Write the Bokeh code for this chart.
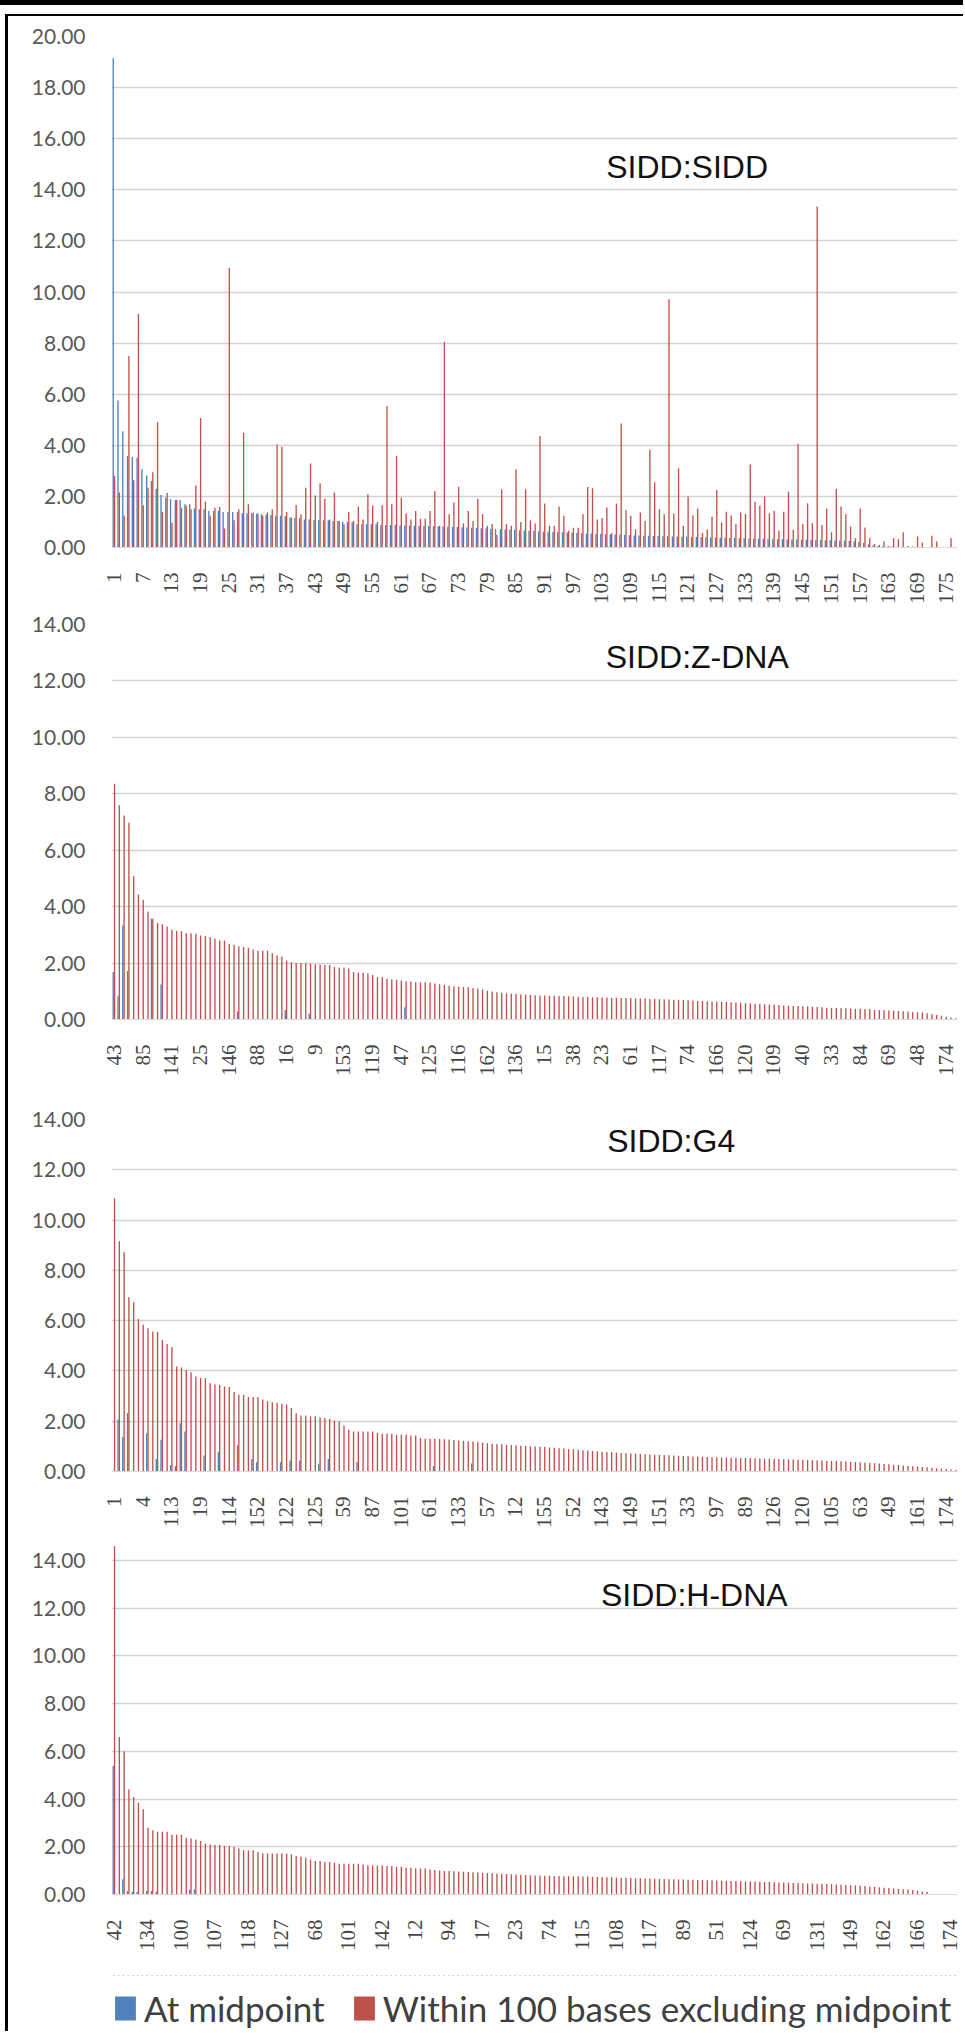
import math
from bokeh.plotting import figure
from bokeh.models import (Range1d, FixedTicker, PrintfTickFormatter, Label,
                          Legend, LegendItem, ColumnDataSource)
from bokeh.transform import dodge
from bokeh.layouts import column
from bokeh.embed import file_html
from bokeh.resources import INLINE

N = 177
positions = list(range(N))

# ---------------- SIDD:SIDD ----------------
sidd_cats = [str(i + 1) for i in range(N)]
sidd_mid = [
    19.15, 5.75, 4.55, 3.58, 3.54, 3.51, 3.06, 2.82, 2.60, 2.30,
    2.05, 1.95, 1.90, 1.86, 1.86, 1.69, 1.69, 1.53, 1.50, 1.50,
    1.43, 1.43, 1.43, 1.39, 1.39, 1.39, 1.39, 1.34, 1.34, 1.34,
    1.32, 1.30, 1.28, 1.27, 1.24, 1.24, 1.22, 1.17, 1.15, 1.14,
    1.10, 1.10, 1.08, 1.08, 1.07, 1.07, 1.04, 1.04, 1.00, 1.00,
    0.98, 0.91, 0.91, 0.91, 0.91, 0.91, 0.88, 0.88, 0.88, 0.88,
    0.86, 0.86, 0.85, 0.85, 0.84, 0.84, 0.83, 0.83, 0.82, 0.82,
    0.81, 0.80, 0.80, 0.79, 0.78, 0.77, 0.76, 0.75, 0.74, 0.73,
    0.72, 0.71, 0.70, 0.70, 0.69, 0.68, 0.67, 0.66, 0.65, 0.64,
    0.63, 0.62, 0.61, 0.60, 0.60, 0.59, 0.58, 0.57, 0.56, 0.55,
    0.55, 0.54, 0.53, 0.52, 0.51, 0.50, 0.50, 0.49, 0.48, 0.47,
    0.47, 0.46, 0.46, 0.45, 0.45, 0.44, 0.44, 0.43, 0.43, 0.42,
    0.42, 0.41, 0.41, 0.40, 0.40, 0.39, 0.39, 0.38, 0.38, 0.37,
    0.37, 0.36, 0.36, 0.35, 0.35, 0.34, 0.34, 0.33, 0.33, 0.32,
    0.32, 0.32, 0.31, 0.31, 0.30, 0.30, 0.30, 0.29, 0.29, 0.28,
    0.28, 0.27, 0.27, 0.26, 0.25, 0.24, 0.22, 0.18, 0.12, 0.08,
    0.06, 0.05, 0.04, 0.04, 0.03, 0.03, 0.02, 0.02, 0.02, 0.01,
    0.01, 0.01, 0.01, 0.00, 0.00, 0.00, 0.00]
sidd_near = [
    2.80, 2.15, 1.24, 7.50, 2.63, 9.15, 1.65, 2.34, 2.95, 4.90,
    1.40, 2.13, 0.97, 1.86, 1.56, 1.63, 1.50, 2.43, 5.07, 1.80,
    1.24, 1.56, 1.59, 0.74, 10.95, 1.07, 1.50, 4.49, 1.69, 1.37,
    1.33, 1.24, 1.37, 1.50, 4.03, 3.94, 1.39, 1.17, 1.66, 1.30,
    2.34, 3.29, 2.04, 2.51, 1.91, 1.10, 2.15, 1.04, 0.91, 1.39,
    1.04, 1.60, 1.10, 2.08, 1.65, 1.00, 1.65, 5.53, 1.69, 3.58,
    1.95, 1.33, 1.10, 1.43, 1.13, 1.13, 1.43, 2.21, 0.85, 8.05,
    1.30, 1.76, 2.38, 0.95, 1.43, 1.04, 1.91, 1.30, 0.85, 0.92,
    0.50, 2.28, 0.92, 0.85, 3.05, 1.00, 2.28, 1.07, 0.94, 4.36,
    1.72, 0.85, 0.85, 1.60, 1.24, 0.66, 0.77, 0.77, 1.30, 2.37,
    2.32, 1.10, 1.15, 1.57, 0.56, 1.72, 4.85, 1.46, 1.24, 0.70,
    1.37, 1.04, 3.83, 2.55, 1.50, 1.30, 9.72, 1.33, 3.10, 0.85,
    2.00, 1.26, 1.53, 0.57, 0.70, 1.20, 2.25, 0.98, 1.40, 1.25,
    0.92, 1.37, 1.31, 3.25, 1.79, 1.63, 2.00, 1.34, 1.44, 0.66,
    1.40, 2.18, 0.69, 4.06, 0.92, 1.73, 0.95, 13.35, 0.88, 1.53,
    0.60, 2.29, 1.60, 1.30, 0.82, 0.36, 1.53, 0.78, 0.36, 0.14,
    0.10, 0.23, 0.06, 0.36, 0.33, 0.60, 0.06, 0.04, 0.43, 0.20,
    0.00, 0.46, 0.23, 0.00, 0.00, 0.36, 0.00]

# ---------------- SIDD:Z-DNA ----------------
zdna_ticklabels = ["43", "85", "141", "25", "146", "88", "16", "9", "153", "119",
                   "47", "125", "116", "162", "136", "15", "38", "23", "61", "117",
                   "74", "166", "120", "109", "40", "33", "84", "69", "48", "174"]
zdna_mid = [0.0] * N
for k, v in [(0, 1.68), (1, 0.82), (2, 3.33), (3, 1.72), (8, 3.57), (10, 1.24),
             (26, 0.28), (36, 0.34), (41, 0.20), (61, 0.43)]:
    zdna_mid[k] = v
zdna_near = [
    8.36, 7.59, 7.23, 6.97, 5.08, 4.43, 4.24, 3.83, 3.57, 3.42,
    3.38, 3.30, 3.18, 3.15, 3.13, 3.06, 3.06, 3.04, 2.98, 2.96,
    2.92, 2.86, 2.80, 2.80, 2.68, 2.65, 2.60, 2.56, 2.54, 2.48,
    2.44, 2.44, 2.44, 2.35, 2.27, 2.23, 2.09, 2.03, 2.00, 2.00,
    2.00, 1.98, 1.96, 1.95, 1.93, 1.93, 1.86, 1.84, 1.84, 1.81,
    1.68, 1.66, 1.66, 1.64, 1.58, 1.50, 1.50, 1.44, 1.42, 1.41,
    1.38, 1.36, 1.35, 1.32, 1.32, 1.32, 1.31, 1.28, 1.25, 1.22,
    1.20, 1.18, 1.16, 1.15, 1.14, 1.12, 1.10, 1.06, 1.02, 0.99,
    0.97, 0.95, 0.93, 0.91, 0.90, 0.89, 0.88, 0.87, 0.86, 0.85,
    0.85, 0.84, 0.84, 0.83, 0.83, 0.82, 0.82, 0.81, 0.80, 0.80,
    0.79, 0.79, 0.78, 0.78, 0.77, 0.77, 0.76, 0.76, 0.75, 0.75,
    0.74, 0.74, 0.73, 0.73, 0.72, 0.72, 0.71, 0.70, 0.70, 0.69,
    0.68, 0.67, 0.66, 0.66, 0.65, 0.64, 0.63, 0.63, 0.62, 0.61,
    0.60, 0.59, 0.58, 0.57, 0.56, 0.55, 0.54, 0.53, 0.52, 0.51,
    0.50, 0.49, 0.48, 0.48, 0.47, 0.46, 0.45, 0.44, 0.43, 0.42,
    0.41, 0.41, 0.40, 0.40, 0.39, 0.38, 0.38, 0.37, 0.36, 0.35,
    0.34, 0.33, 0.32, 0.31, 0.30, 0.29, 0.28, 0.27, 0.26, 0.25,
    0.22, 0.19, 0.16, 0.13, 0.10, 0.07, 0.04]

# ---------------- SIDD:G4 ----------------
g4_ticklabels = ["1", "4", "113", "19", "114", "152", "122", "125", "59", "87",
                 "101", "61", "133", "57", "12", "155", "52", "143", "149", "151",
                 "33", "97", "89", "126", "120", "105", "63", "49", "161", "174"]
g4_mid = [0.0] * N
for k, v in [(1, 2.07), (2, 1.37), (3, 2.33), (7, 1.52), (9, 0.50), (10, 1.26),
             (12, 0.26), (13, 0.21), (14, 1.92), (15, 1.59), (19, 0.64), (22, 0.77),
             (26, 1.04), (29, 0.50), (30, 0.37), (35, 0.37), (37, 0.44), (39, 0.44),
             (43, 0.31), (45, 0.50), (51, 0.37), (67, 0.22), (75, 0.32)]:
    g4_mid[k] = v
g4_near = [
    10.87, 9.16, 8.72, 6.93, 6.73, 6.07, 5.84, 5.70, 5.57, 5.55,
    5.23, 5.07, 4.94, 4.18, 4.14, 4.04, 3.95, 3.78, 3.72, 3.71,
    3.51, 3.46, 3.44, 3.38, 3.36, 3.16, 3.06, 3.05, 2.96, 2.96,
    2.96, 2.86, 2.79, 2.75, 2.73, 2.69, 2.66, 2.53, 2.32, 2.23,
    2.23, 2.20, 2.20, 2.16, 2.13, 2.09, 2.03, 1.99, 1.83, 1.66,
    1.59, 1.59, 1.59, 1.59, 1.59, 1.54, 1.50, 1.50, 1.50, 1.46,
    1.46, 1.46, 1.43, 1.43, 1.34, 1.30, 1.30, 1.30, 1.29, 1.28,
    1.27, 1.25, 1.23, 1.22, 1.20, 1.19, 1.17, 1.15, 1.12, 1.10,
    1.09, 1.08, 1.06, 1.05, 1.03, 1.02, 1.01, 1.00, 0.99, 0.98,
    0.97, 0.95, 0.94, 0.92, 0.91, 0.89, 0.88, 0.87, 0.85, 0.84,
    0.82, 0.81, 0.79, 0.78, 0.77, 0.76, 0.74, 0.73, 0.72, 0.71,
    0.70, 0.69, 0.68, 0.67, 0.66, 0.66, 0.65, 0.64, 0.63, 0.62,
    0.61, 0.60, 0.60, 0.59, 0.58, 0.57, 0.57, 0.56, 0.56, 0.55,
    0.55, 0.54, 0.54, 0.53, 0.53, 0.52, 0.51, 0.51, 0.50, 0.50,
    0.49, 0.49, 0.48, 0.47, 0.47, 0.46, 0.45, 0.45, 0.44, 0.43,
    0.42, 0.42, 0.41, 0.40, 0.39, 0.38, 0.37, 0.36, 0.35, 0.33,
    0.32, 0.30, 0.29, 0.27, 0.26, 0.24, 0.22, 0.21, 0.20, 0.18,
    0.17, 0.15, 0.13, 0.12, 0.10, 0.08, 0.06]

# ---------------- SIDD:H-DNA ----------------
hdna_ticklabels = ["42", "134", "100", "107", "118", "127", "68", "101", "142", "12",
                   "94", "17", "23", "74", "115", "108", "117", "89", "51", "124",
                   "69", "131", "149", "162", "166", "174"]
hdna_mid = [0.0] * N
for k, v in [(0, 5.39), (2, 0.64), (3, 0.15), (4, 0.12), (5, 0.10), (7, 0.15),
             (8, 0.15), (9, 0.12), (16, 0.20), (17, 0.22)]:
    hdna_mid[k] = v
hdna_near = [
    14.60, 6.60, 6.00, 4.41, 4.09, 3.85, 3.57, 2.80, 2.69, 2.63,
    2.63, 2.63, 2.50, 2.50, 2.50, 2.38, 2.35, 2.31, 2.24, 2.14,
    2.10, 2.07, 2.07, 2.03, 2.03, 1.99, 1.93, 1.85, 1.85, 1.85,
    1.78, 1.72, 1.72, 1.72, 1.72, 1.72, 1.72, 1.68, 1.61, 1.58,
    1.54, 1.47, 1.40, 1.40, 1.36, 1.36, 1.33, 1.29, 1.29, 1.29,
    1.29, 1.29, 1.26, 1.23, 1.23, 1.22, 1.22, 1.19, 1.19, 1.16,
    1.16, 1.12, 1.12, 1.09, 1.09, 1.09, 1.05, 1.03, 1.01, 0.99,
    0.98, 0.97, 0.96, 0.95, 0.94, 0.93, 0.92, 0.91, 0.90, 0.89,
    0.88, 0.87, 0.86, 0.85, 0.84, 0.83, 0.82, 0.81, 0.80, 0.80,
    0.79, 0.79, 0.78, 0.78, 0.77, 0.77, 0.76, 0.76, 0.75, 0.75,
    0.74, 0.74, 0.73, 0.72, 0.72, 0.71, 0.70, 0.70, 0.69, 0.68,
    0.68, 0.67, 0.67, 0.66, 0.66, 0.65, 0.64, 0.64, 0.63, 0.63,
    0.62, 0.62, 0.61, 0.61, 0.60, 0.60, 0.59, 0.59, 0.58, 0.57,
    0.57, 0.56, 0.55, 0.55, 0.54, 0.53, 0.52, 0.52, 0.51, 0.50,
    0.50, 0.49, 0.48, 0.48, 0.47, 0.46, 0.46, 0.45, 0.45, 0.44,
    0.43, 0.42, 0.41, 0.40, 0.39, 0.38, 0.37, 0.36, 0.34, 0.32,
    0.30, 0.28, 0.27, 0.25, 0.24, 0.22, 0.21, 0.19, 0.16, 0.13,
    0.10, 0.00, 0.00, 0.00, 0.00, 0.00, 0.00]

BLUE = "#4F81BD"
RED = "#C0504D"
SERIES = ["At midpoint", "Within 100 bases excluding midpoint"]


def make_panel(mid, near, ticklabels, step, title, ymax, ytop_tick,
               height, b_top, b_bottom, b_left, b_right, title_x, title_y):
    p = figure(width=955, height=height, output_backend="svg",
               toolbar_location=None, x_range=Range1d(-0.5, N - 0.5),
               y_range=Range1d(0, ymax), min_border_top=b_top,
               min_border_bottom=b_bottom, min_border_left=b_left,
               min_border_right=b_right)
    src = ColumnDataSource(dict(x=positions, mid=mid, near=near))
    p.vbar(x=dodge("x", -0.14, range=p.x_range), top="mid", width=0.28,
           source=src, fill_color=BLUE, line_color=None)
    p.vbar(x=dodge("x", 0.14, range=p.x_range), top="near", width=0.28,
           source=src, fill_color=RED, line_color=None)
    ticks = list(range(0, N, step))
    p.xaxis.ticker = FixedTicker(ticks=ticks)
    p.xaxis.major_label_overrides = {t: lab for t, lab in zip(ticks, ticklabels)}
    p.xaxis.major_label_orientation = math.pi / 2
    p.xaxis.major_label_text_font = "Liberation Serif"
    p.xaxis.major_label_text_font_size = "21px"
    p.xaxis.major_label_text_color = "#454545"
    p.xaxis.major_label_standoff = 19
    p.xaxis.axis_line_color = "#d9d9d9"
    p.xaxis.axis_line_width = 1
    p.xaxis.major_tick_line_color = None
    p.xaxis.minor_tick_line_color = None

    p.yaxis.ticker = FixedTicker(ticks=list(range(0, ytop_tick + 1, 2)))
    p.yaxis.formatter = PrintfTickFormatter(format="%.2f")
    p.yaxis.major_label_text_font = "Lato"
    p.yaxis.major_label_text_font_size = "21px"
    p.yaxis.major_label_text_color = "#595959"
    p.yaxis.major_label_standoff = 20
    p.yaxis.axis_line_color = None
    p.yaxis.major_tick_line_color = None
    p.yaxis.minor_tick_line_color = None

    p.xgrid.visible = False
    p.ygrid.grid_line_color = "#d3d3d3"
    p.ygrid.grid_line_width = 1.6
    p.outline_line_color = None
    p.background_fill_color = "white"
    p.border_fill_color = "white"

    p.add_layout(Label(x=title_x, y=title_y, text=title, text_font="Liberation Sans",
                       text_font_size="32px", text_color="#111111",
                       text_baseline="middle", text_align="left"))
    return p, src


p1, _ = make_panel(sidd_mid, sidd_near, sidd_cats[::6], 6, "SIDD:SIDD", 20, 20,
                   594, 20, 63, 89, 6, 103.0, 14.9)
p2, _ = make_panel(zdna_mid, zdna_near, zdna_ticklabels, 6, "SIDD:Z-DNA", 14, 14,
                   490, 14, 81, 90, 4, 102.9, 12.85)
p3, _ = make_panel(g4_mid, g4_near, g4_ticklabels, 6, "SIDD:G4", 14, 14,
                   440, 19, 69, 87, 4, 103.2, 13.13)
p4, src4 = make_panel(hdna_mid, hdna_near, hdna_ticklabels, 7, "SIDD:H-DNA", 14.63, 14,
                      435, 5, 81, 103, 4, 101.9, 12.55)

# legend strip below the last panel (series keys; its bars lie outside its view)
p5 = figure(width=955, height=56, output_backend="svg", toolbar_location=None,
            x_axis_type=None, y_axis_type=None,
            x_range=Range1d(-0.5, N - 0.5), y_range=Range1d(-2, -1),
            min_border_top=0, min_border_bottom=0, min_border_left=0,
            min_border_right=0)
lb = p5.vbar(x="x", top="mid", width=0.28, source=src4,
             fill_color=BLUE, line_color=None)
lr = p5.vbar(x="x", top="near", width=0.28, source=src4,
             fill_color=RED, line_color=None)
p5.grid.visible = False
p5.outline_line_color = None
p5.background_fill_color = "white"
p5.border_fill_color = "white"
legend = Legend(items=[LegendItem(label=SERIES[0], renderers=[lb]),
                       LegendItem(label=SERIES[1], renderers=[lr])],
                location=(1, 2), orientation="horizontal",
                glyph_width=26, glyph_height=30, label_standoff=6, spacing=26,
                padding=0, margin=0, border_line_color=None,
                background_fill_alpha=0,
                label_text_font="Lato", label_text_font_size="35px",
                label_text_color="#404040", label_text_baseline="alphabetic")
p5.add_layout(legend)

inner = column(p1, p2, p3, p4, p5, spacing=0,
               styles={"border-top": "2px solid #000", "border-left": "3px solid #000",
                       "margin-top": "9px", "margin-left": "5px"})
layout = column(inner, spacing=0, styles={"border-top": "5px solid #000"})

open("out.html", "w").write(file_html(layout, INLINE))
